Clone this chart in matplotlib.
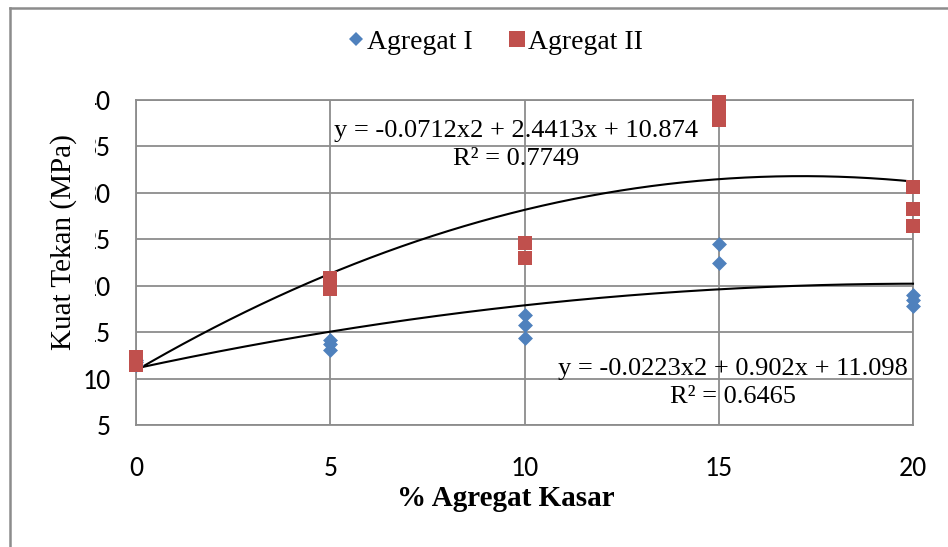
import numpy as np
import matplotlib
matplotlib.use("Agg")
import matplotlib.pyplot as plt
from matplotlib.lines import Line2D
from matplotlib.patches import Rectangle

# ---- data ----
x_agg1 = [0, 0, 0, 5, 5, 5, 10, 10, 10, 15, 15, 20, 20, 20]
y_agg1 = [11.5, 11.8, 12.0, 14.2, 13.7, 13.1, 16.9, 15.8, 14.4, 24.5, 22.4, 19.0, 18.5, 17.8]
x_agg2 = [0, 0, 0, 5, 5, 5, 10, 10, 15, 15, 15, 20, 20, 20]
y_agg2 = [12.3, 11.9, 11.5, 20.8, 20.2, 19.6, 24.6, 23.0, 39.8, 38.8, 37.9, 30.6, 28.3, 26.4]

# trendline coefficients as shown on the chart (a2, a1, a0)
coef_agg1 = [-0.0223, 0.902, 11.098]
coef_agg2 = [-0.0712, 2.4413, 10.874]
r2_agg1 = 0.6465
r2_agg2 = 0.7749

x_ticks = [0, 5, 10, 15, 20]
y_ticks = [5, 10, 15, 20, 25, 30, 35, 40]

W, H = 948, 547
fig = plt.figure(figsize=(W / 100, H / 100), dpi=100)
ax = fig.add_axes([136 / W, 1 - 425 / H, (913 - 136) / W, (425 - 100) / H])

grid_c = "#8c8c8c"
tick_font = "Carlito"
serif = "Liberation Serif"

ax.set_xlim(0, 20)
ax.set_ylim(5, 40)
ax.set_xticks(x_ticks)
ax.set_yticks(y_ticks)
ax.grid(True, color=grid_c, linewidth=1.3, zorder=0)
ax.set_axisbelow(True)
for s in ax.spines.values():
    s.set_color(grid_c)
    s.set_linewidth(1.3)
ax.tick_params(length=0)
ax.tick_params(axis="x", pad=22)
ax.tick_params(axis="y", pad=18)
for lab in ax.get_xticklabels() + ax.get_yticklabels():
    lab.set_fontfamily(tick_font)
    lab.set_fontsize(20)
    lab.set_color("#000000")

xs = np.linspace(0, 20, 200)
ax.plot(xs, np.polyval(coef_agg1, xs), color="black", lw=1.5, zorder=3, clip_on=False)
ax.plot(xs, np.polyval(coef_agg2, xs), color="black", lw=1.5, zorder=3, clip_on=False)

ax.scatter(x_agg1, y_agg1, marker="D", s=7.6 ** 2, color="#4F81BD", zorder=4,
           clip_on=False, linewidths=0)
ax.scatter(x_agg2, y_agg2, marker="s", s=10 ** 2, color="#C0504D", zorder=5,
           clip_on=False, linewidths=0)

eq2 = "y = %.4fx2 + %.4fx + %.3f\nR² = %.4f" % (coef_agg2[0], coef_agg2[1], coef_agg2[2], r2_agg2)
eq1 = "y = %.4fx2 + %.3fx + %.3f\nR² = %.4f" % (coef_agg1[0], coef_agg1[1], coef_agg1[2], r2_agg1)
fig.text(516 / W, 1 - 145 / H, eq2, ha="center", va="center", multialignment="center",
         fontfamily=serif, fontsize=19, linespacing=1.3, zorder=6)
fig.text(733 / W, 1 - 383 / H, eq1, ha="center", va="center", multialignment="center",
         fontfamily=serif, fontsize=19, linespacing=1.3, zorder=6)

# cover partly hidden tick labels like the reference, then y label
fig.patches.append(Rectangle((40 / W, 1 - 355 / H), (95 - 40) / W, (355 - 90) / H,
                             transform=fig.transFigure, facecolor="white",
                             edgecolor="none", zorder=2))
fig.text(64 / W, 1 - 242 / H, "Kuat Tekan (MPa)", rotation=90, ha="center", va="center",
         fontfamily=serif, fontsize=21, zorder=3)
fig.text(506 / W, 1 - 498 / H, "% Agregat Kasar", ha="center", va="center",
         fontfamily=serif, fontsize=21, fontweight="bold", zorder=3)

handles = [
    Line2D([], [], marker="D", linestyle="none", color="#4F81BD", markersize=7,
           markeredgewidth=0),
    Line2D([], [], marker="s", linestyle="none", color="#C0504D", markersize=11,
           markeredgewidth=0),
]
fig.legend(handles, ["Agregat I", "Agregat II"], loc="center", ncol=2,
           bbox_to_anchor=(495 / W, 1 - 42 / H), frameon=False,
           prop={"family": serif, "size": 20}, handlelength=0.6,
           handletextpad=0.1, columnspacing=1.3, borderaxespad=0)

# outer chart border (top and left visible)
fig.add_artist(Line2D([10 / W, 1], [1 - 8 / H, 1 - 8 / H], transform=fig.transFigure,
                      color="#8c8c8c", lw=1.8))
fig.add_artist(Line2D([10 / W, 10 / W], [0, 1 - 8 / H], transform=fig.transFigure,
                      color="#8c8c8c", lw=1.8))

fig.savefig("out.png", dpi=100)
